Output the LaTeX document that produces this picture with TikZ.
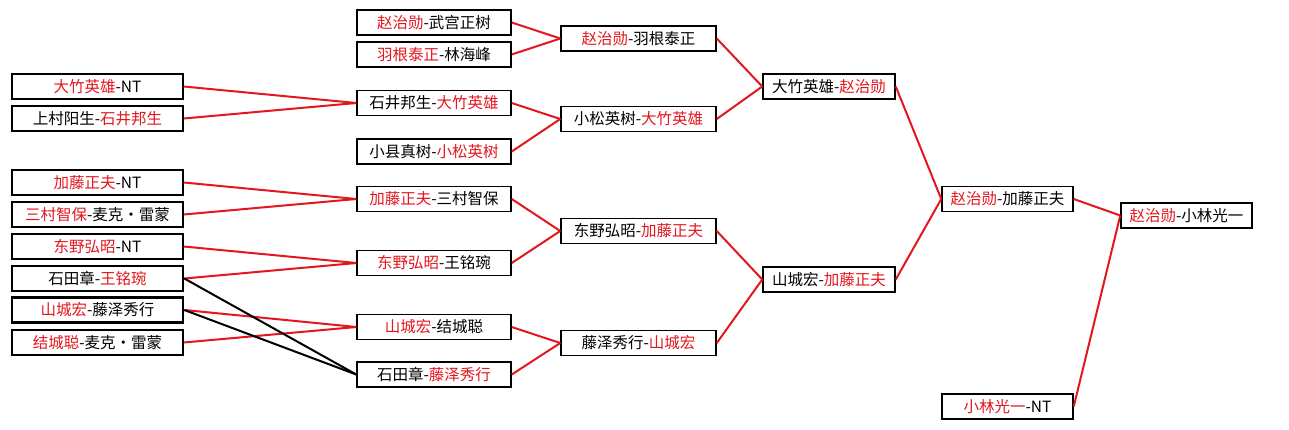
\documentclass[tikz,border=0pt]{standalone}
\usepackage{fontspec}
\usepackage{xcolor}
\usepackage{tikz}
\usetikzlibrary{positioning}
\newfontfamily\cjk{Noto Sans CJK SC}
\definecolor{winred}{RGB}{228,22,30}
\newcommand{\won}[1]{\textcolor{winred}{#1}}

\begin{document}
\begin{tikzpicture}[x=1pt, y=-1pt,
  box/.style={draw, line width=1.5pt, fill=white, minimum height=25pt, inner sep=0pt,
    font=\cjk\fontsize{15.5}{16}\selectfont},
  boldbox/.style={box, line width=2.6pt},
  link/.style={winred, line width=2pt},
  lose/.style={black, line width=2pt}
]
\useasboundingbox[fill=white] (0,0) rectangle (1289,429);

% first round
\node[box, minimum width=171pt] (a1) at (97.5,86.5) {\won{大竹英雄}-NT};
\node[box, minimum width=171pt] (a2) at (97.5,118.5) {上村阳生-\won{石井邦生}};
\node[box, minimum width=171pt] (a3) at (97.5,182.5) {\won{加藤正夫}-NT};
\node[box, minimum width=171pt] (a4) at (97.5,214.5) {\won{三村智保}-麦克・雷蒙};
\node[box, minimum width=171pt] (a5) at (97.5,246.5) {\won{东野弘昭}-NT};
\node[boldbox, minimum width=171pt] (a6) at (97.5,278.5) {石田章-\won{王铭琬}};
\node[boldbox, minimum width=171pt] (a7) at (97.5,310) {\won{山城宏}-藤泽秀行};
\node[box, minimum width=171pt] (a8) at (97.5,342.5) {\won{结城聪}-麦克・雷蒙};

% second round
\node[box, minimum width=154pt] (b1) at (434,22.5) {\won{赵治勋}-武宫正树};
\node[box, minimum width=154pt] (b2) at (434,54.5) {\won{羽根泰正}-林海峰};
\node[box, minimum width=154pt] (b3) at (434,103) {石井邦生-\won{大竹英雄}};
\node[box, minimum width=154pt] (b4) at (434,151.5) {小县真树-\won{小松英树}};
\node[box, minimum width=154pt] (b5) at (434,199) {\won{加藤正夫}-三村智保};
\node[box, minimum width=154pt] (b6) at (434,263) {\won{东野弘昭}-王铭琬};
\node[box, minimum width=154pt] (b7) at (434,327) {\won{山城宏}-结城聪};
\node[box, minimum width=154pt] (b8) at (434,374.5) {石田章-\won{藤泽秀行}};

% quarter final
\node[box, minimum width=155pt] (c1) at (638.5,38.5) {\won{赵治勋}-羽根泰正};
\node[box, minimum width=155pt] (c2) at (638.5,119) {小松英树-\won{大竹英雄}};
\node[box, minimum width=155pt] (c3) at (638.5,231) {东野弘昭-\won{加藤正夫}};
\node[box, minimum width=155pt] (c4) at (638.5,343) {藤泽秀行-\won{山城宏}};

% semi final
\node[box, minimum width=132pt] (d1) at (829,86.5) {大竹英雄-\won{赵治勋}};
\node[box, minimum width=132pt] (d2) at (829,279.5) {山城宏-\won{加藤正夫}};

% final
\node[box, minimum width=131pt] (e1) at (1007.5,199) {\won{赵治勋}-加藤正夫};
\node[box, minimum width=131pt] (e2) at (1007.5,406.5) {\won{小林光一}-NT};
\node[box, minimum width=131pt] (f1) at (1186.5,215.5) {\won{赵治勋}-小林光一};

\draw[link] (a1.east) -- (b3.west);
\draw[link] (a2.east) -- (b3.west);
\draw[link] (a3.east) -- (b5.west);
\draw[link] (a4.east) -- (b5.west);
\draw[link] (a5.east) -- (b6.west);
\draw[link] (a6.east) -- (b6.west);
\draw[link] (a7.east) -- (b7.west);
\draw[link] (a8.east) -- (b7.west);
\draw[lose] (a6.east) -- (b8.west);
\draw[lose] (a7.east) -- (b8.west);

\draw[link] (b1.east) -- (c1.west);
\draw[link] (b2.east) -- (c1.west);
\draw[link] (b3.east) -- (c2.west);
\draw[link] (b4.east) -- (c2.west);
\draw[link] (b5.east) -- (c3.west);
\draw[link] (b6.east) -- (c3.west);
\draw[link] (b7.east) -- (c4.west);
\draw[link] (b8.east) -- (c4.west);

\draw[link] (c1.east) -- (d1.west);
\draw[link] (c2.east) -- (d1.west);
\draw[link] (c3.east) -- (d2.west);
\draw[link] (c4.east) -- (d2.west);

\draw[link] (d1.east) -- (e1.west);
\draw[link] (d2.east) -- (e1.west);
\draw[link] (e1.east) -- (f1.west);
\draw[link] (e2.east) -- (f1.west);

\end{tikzpicture}
\end{document}
